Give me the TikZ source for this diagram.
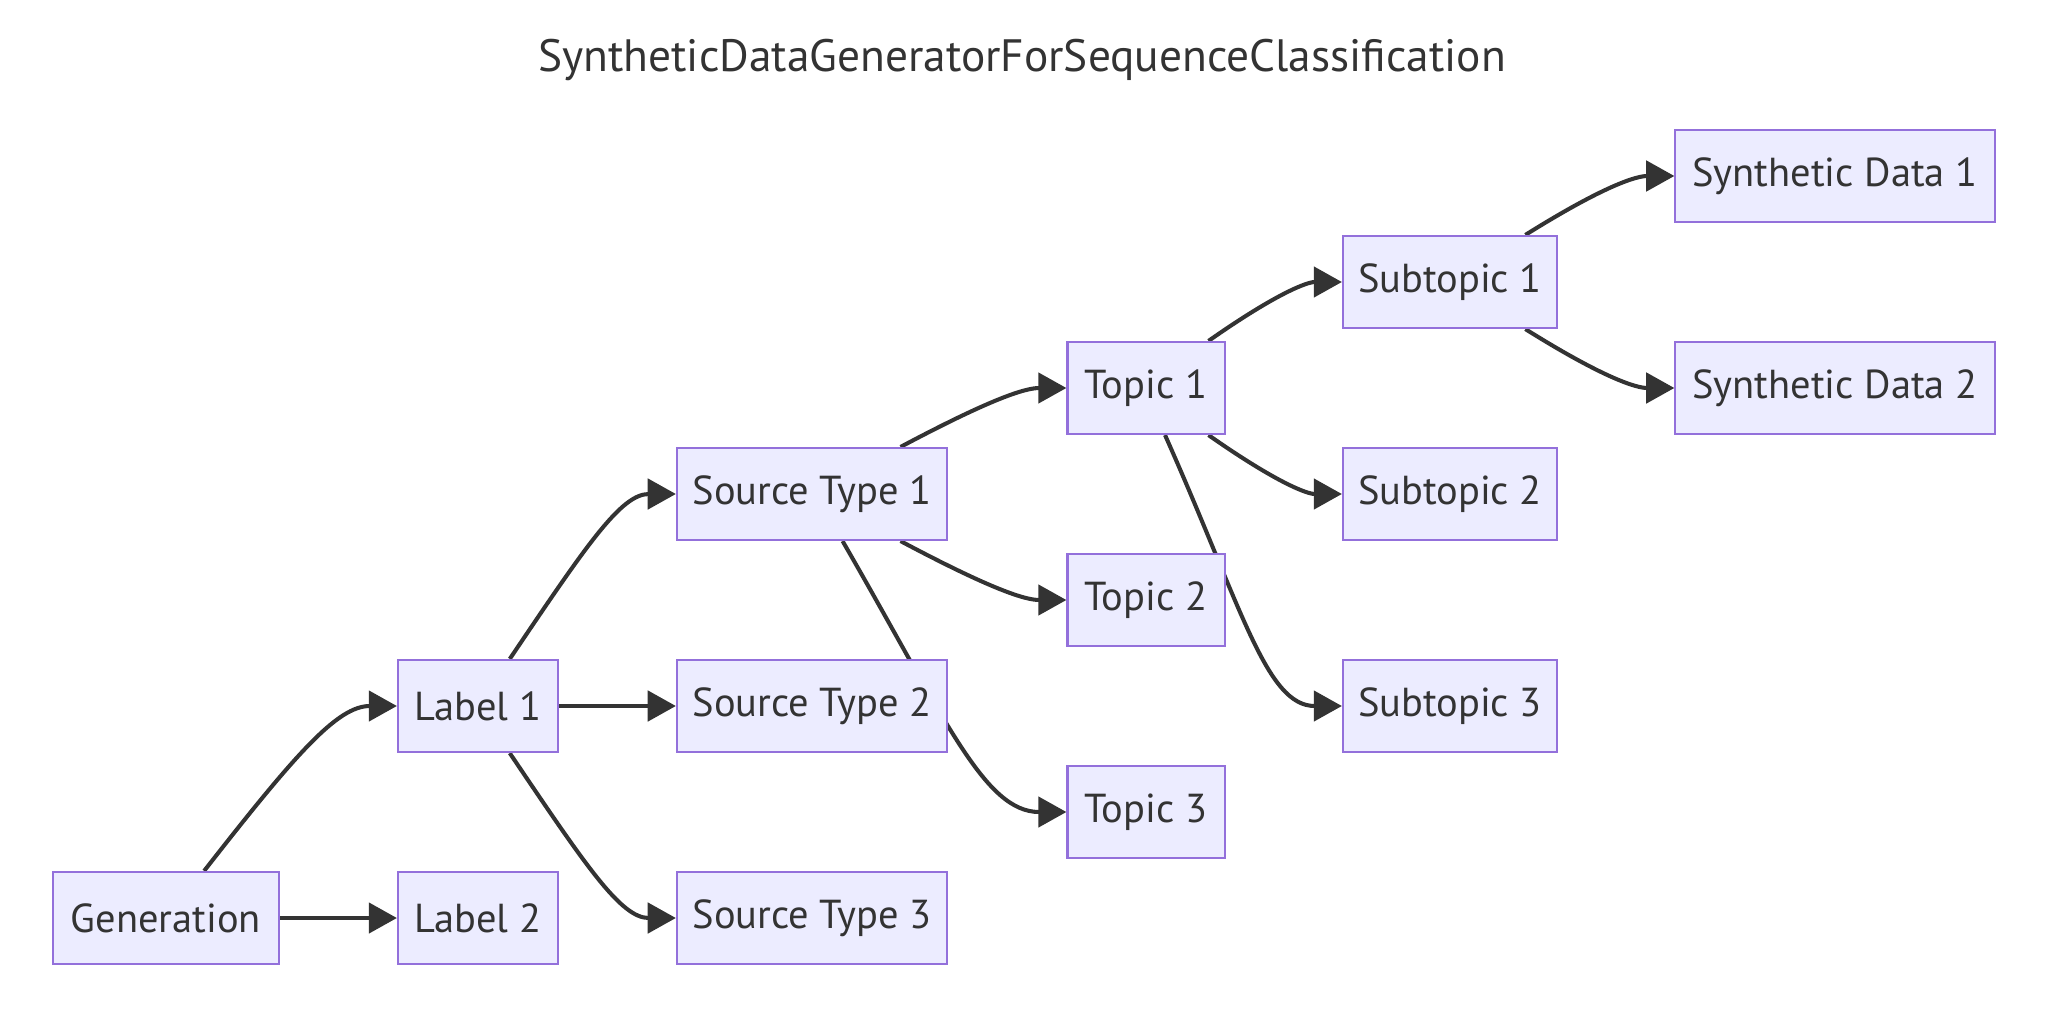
\documentclass[tikz,border=0pt]{standalone}
\usepackage{fontspec}
\setmainfont{PT Sans}
\usepackage{xcolor}
\definecolor{mfill}{HTML}{ECECFF}
\definecolor{mborder}{HTML}{9370DB}
\definecolor{mline}{HTML}{333333}
\usepackage{tikz}
\usetikzlibrary{arrows.meta,positioning,backgrounds}

\begin{document}
\begin{tikzpicture}[x=0.01cm,y=0.01cm,
  box/.style={rectangle,draw=mborder,fill=mfill,line width=0.6pt,inner sep=0pt,
              minimum height=0.92cm,font=\fontsize{11.5}{14}\selectfont,text=mline},
  link/.style={-{Triangle[length=8pt,width=8.6pt]},line width=1.15pt,draw=mline},
  swing/.style={out looseness=1.5,in looseness=0.6}]
\useasboundingbox (0,0) rectangle (2046,1020);
\node[font=\fontsize{12.9}{15}\selectfont,text=mline] (title) at (1022,960)
  {SyntheticDataGeneratorForSequenceClassification};
\node[box,minimum width=2.26cm] (gen) at (166,102) {Generation};
\node[box,minimum width=1.60cm] (lab1) at (478,314) {Label 1};
\node[box,minimum width=1.60cm] (lab2) at (478,102) {Label 2};
\node[box,minimum width=2.70cm] (src1) at (812,526) {Source Type 1};
\node[box,minimum width=2.70cm] (src2) at (812,314) {Source Type 2};
\node[box,minimum width=2.70cm] (src3) at (812,102) {Source Type 3};
\node[box,minimum width=1.57cm] (top1) at (1146,632) {Topic 1};
\node[box,minimum width=1.57cm] (top2) at (1146,420) {Topic 2};
\node[box,minimum width=1.57cm] (top3) at (1146,208) {Topic 3};
\node[box,minimum width=2.14cm] (sub1) at (1450,738) {Subtopic 1};
\node[box,minimum width=2.14cm] (sub2) at (1450,526) {Subtopic 2};
\node[box,minimum width=2.14cm] (sub3) at (1450,314) {Subtopic 3};
\node[box,minimum width=3.19cm] (syn1) at (1835,844) {Synthetic Data 1};
\node[box,minimum width=3.19cm] (syn2) at (1835,632) {Synthetic Data 2};
\begin{scope}[on background layer]
\draw[link] (gen.51) to[out=52,in=180,swing] (lab1.west);
\draw[link] (gen) -- (lab2);
\draw[link] (lab1.56) to[out=56,in=180,swing] (src1.west);
\draw[link] (lab1) -- (src2);
\draw[link] (lab1.-56) to[out=-56,in=180,swing] (src3.west);
\draw[link] (src1.28) to[out=28,in=180,swing] (top1.west);
\draw[link] (src1.-28) to[out=-28,in=180,swing] (top2.west);
\draw[link] (src1.-57) to[out=-60,in=180,swing] (top3.west);
\draw[link] (top1.37) to[out=35,in=180,swing] (sub1.west);
\draw[link] (top1.-37) to[out=-35,in=180,swing] (sub2.west);
\draw[link] (top1.-68) to[out=-66,in=180,swing] (sub3.west);
\draw[link] (sub1.32) to[out=32,in=180,swing] (syn1.west);
\draw[link] (sub1.-32) to[out=-32,in=180,swing] (syn2.west);
\end{scope}
\end{tikzpicture}
\end{document}
